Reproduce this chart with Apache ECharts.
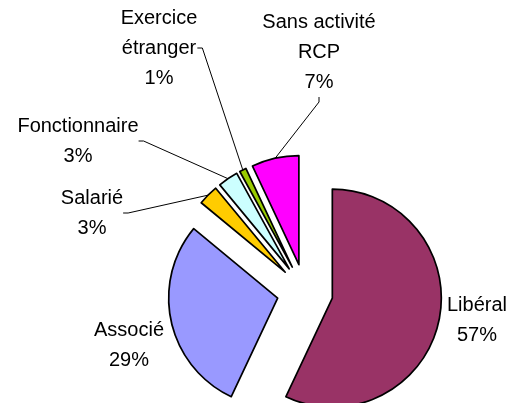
<!DOCTYPE html>
<html>
<head>
<meta charset="utf-8">
<script src="https://cdn.jsdelivr.net/npm/echarts@6/dist/echarts.min.js"></script>
<style>html,body{margin:0;padding:0;background:#fff}#c{width:518px;height:403px}</style>
</head>
<body>
<div id="c"></div>
<script>
// Data
var categories = ['Libéral', 'Associé', 'Salarié', 'Fonctionnaire', 'Exercice\nétranger', 'Sans activité\nRCP'];
var shares = [57, 29, 3, 3, 1, 7];

// Styling (kept separate from data)
var colors = ['#993366', '#9999FF', '#FFCC00', '#CCFFFF', '#99CC00', '#FF00FF'];
var labelPos = [[477, 320], [129, 345], [92, 213], [78, 141], [159, 48], [319, 52]];
var labelPadLeft = [0, 0, 0, 0, 100, 0];   // invisible left padding steers the leader line to the label's right side
var showLine = [false, false, true, true, true, true];
var CENTER = [305, 292];
var R = 109;
var EXPLODE = 28;

var chart = echarts.init(document.getElementById('c'), null, {renderer: 'canvas'});

var sliceData = categories.map(function (n, i) {
  return {name: n, value: shares[i], selected: true, itemStyle: {color: colors[i]}};
});
var labelData = categories.map(function (n, i) {
  var item = {name: n, value: shares[i], labelLine: {show: showLine[i]}};
  if (labelPadLeft[i]) {
    item.label = {padding: [0, 0, 0, labelPadLeft[i]], backgroundColor: 'rgba(255,255,255,0)'};
  }
  return item;
});

chart.setOption({
  animation: false,
  backgroundColor: '#fff',
  series: [{
    type: 'pie',
    center: CENTER,
    radius: R,
    startAngle: 90,
    clockwise: true,
    selectedMode: 'multiple',
    selectedOffset: EXPLODE,
    data: sliceData,
    itemStyle: {borderColor: '#000', borderWidth: 1.7},
    select: {itemStyle: {borderColor: '#000', borderWidth: 1.7}},
    emphasis: {disabled: true, scale: false},
    label: {show: false},
    labelLine: {show: false}
  }, {
    type: 'pie',
    center: CENTER,
    radius: [R + EXPLODE - 1, R + EXPLODE],
    startAngle: 90,
    clockwise: true,
    silent: true,
    z: 3,
    avoidLabelOverlap: false,
    data: labelData,
    itemStyle: {color: 'rgba(0,0,0,0)', borderWidth: 0},
    emphasis: {disabled: true, scale: false},
    label: {
      show: true,
      position: 'outside',
      color: '#000',
      fontFamily: 'Liberation Sans, Arial, sans-serif',
      fontSize: 20,
      lineHeight: 30,
      formatter: function (p) { return p.name + '\n' + Math.round(p.percent) + '%'; }
    },
    labelLine: {show: true, lineStyle: {color: '#000', width: 1}, length: 10, length2: 5},
    labelLayout: function (p) {
      var i = p.dataIndex;
      var pos = labelPos[i];
      return {x: pos[0] - labelPadLeft[i] / 2, y: pos[1], align: 'center', verticalAlign: 'middle'};
    }
  }]
});
</script>
</body>
</html>
